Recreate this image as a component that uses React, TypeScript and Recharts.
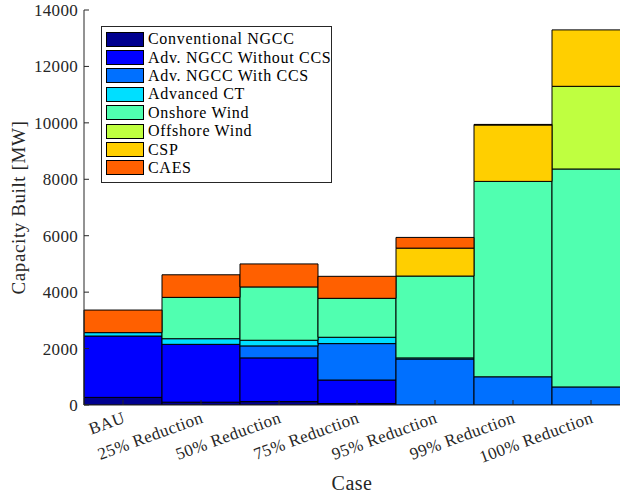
import { BarChart, Bar, XAxis, YAxis } from 'recharts';

const cases = ['BAU', '25% Reduction', '50% Reduction', '75% Reduction', '95% Reduction', '99% Reduction', '100% Reduction'];
const conventionalNgcc = [270, 100, 120, 50, 0, 0, 0];
const advNgccWithoutCcs = [2175, 2050, 1550, 836, 0, 0, 0];
const advNgccWithCcs = [0, 0, 425, 1290, 1630, 1000, 640];
const advancedCt = [120, 200, 200, 225, 40, 0, 0];
const onshoreWind = [0, 1465, 1890, 1380, 2900, 6925, 7725];
const offshoreWind = [0, 0, 0, 0, 0, 0, 2930];
const csp = [0, 0, 0, 0, 990, 2000, 2000];
const caes = [800, 800, 815, 780, 380, 20, 0];
const yTicks = [0, 2000, 4000, 6000, 8000, 10000, 12000, 14000];

const series = [
  { key: 'conv', name: 'Conventional NGCC', color: '#00008f', values: conventionalNgcc },
  { key: 'without', name: 'Adv. NGCC Without CCS', color: '#0000ff', values: advNgccWithoutCcs },
  { key: 'with', name: 'Adv. NGCC With CCS', color: '#0070ff', values: advNgccWithCcs },
  { key: 'ct', name: 'Advanced CT', color: '#00dfff', values: advancedCt },
  { key: 'onshore', name: 'Onshore Wind', color: '#50ffb0', values: onshoreWind },
  { key: 'offshore', name: 'Offshore Wind', color: '#bfff40', values: offshoreWind },
  { key: 'csp', name: 'CSP', color: '#ffcf00', values: csp },
  { key: 'caes', name: 'CAES', color: '#ff6000', values: caes },
];

const data = cases.map((name, i) => {
  const row: any = { name };
  series.forEach((s) => {
    row[s.key] = s.values[i];
  });
  return row;
});

const FONT = '"Liberation Serif", serif';
const AXIS = '#262626';

const YTick = ({ x, y, payload }: any) => (
  <g>
    <line x1={x + 6} x2={x + 11} y1={y} y2={y} stroke={AXIS} />
    <text x={x} y={y} dy="0.35em" textAnchor="end" fill={AXIS} fontSize={17} letterSpacing={0.3} fontFamily={FONT}>
      {payload.value}
    </text>
  </g>
);

const XTick = ({ x, y, payload }: any) => (
  <g>
    <line x1={x} x2={x} y1={y} y2={y - 5} stroke={AXIS} />
    <text
      x={x - 1}
      y={y + 6}
      dy="0.7em"
      textAnchor="end"
      fill={AXIS}
      fontSize={17}
      letterSpacing={0.4}
      fontFamily={FONT}
      transform={`rotate(-20, ${x - 1}, ${y + 6})`}
    >
      {payload.value}
    </text>
  </g>
);

const TopTick = ({ x, y }: any) => <line x1={x} x2={x} y1={y} y2={y + 5} stroke={AXIS} />;

// legend drawn as an overlay so it takes no room from the plot
const LegendBox = () => (
  <div
    style={{
      position: 'absolute',
      left: 101,
      top: 26,
      border: `1px solid ${AXIS}`,
      background: '#fff',
      padding: '3px 6px 5px 4px',
      width: 219,
      fontFamily: FONT,
      fontSize: 16,
      letterSpacing: 0.7,
      color: '#000',
      boxSizing: 'content-box',
    }}
  >
    {series.map((s) => (
      <div key={s.key} style={{ display: 'flex', alignItems: 'center', height: 18.4, whiteSpace: 'nowrap' }}>
        <span
          style={{
            display: 'inline-block',
            flex: 'none',
            width: 36,
            height: 13,
            background: s.color,
            border: '1px solid #000',
            marginRight: 4,
          }}
        />
        <span>{s.name}</span>
      </div>
    ))}
  </div>
);

export default function App() {
  return (
    <div style={{ position: 'absolute', left: 0, top: 0, width: 620, height: 496, overflow: 'hidden', background: '#fff' }}>
      <BarChart
        width={640}
        height={496}
        data={data}
        margin={{ top: 10, right: 10, left: 0, bottom: 0 }}
        barCategoryGap={0}
        barGap={0}
      >
        <XAxis
          dataKey="name"
          height={91}
          tickSize={0}
          tickMargin={0}
          tickLine={false}
          tick={<XTick />}
          interval={0}
          axisLine={{ stroke: AXIS }}
          label={(props: any) => {
            const vb = props.viewBox;
            return (
              <text x={vb.x + vb.width / 2 - 5} y={490} textAnchor="middle" fill={AXIS} fontSize={20} letterSpacing={0.5} fontFamily={FONT}>
                Case
              </text>
            );
          }}
        />
        <XAxis
          xAxisId="top"
          dataKey="name"
          orientation="top"
          height={0}
          tickSize={0}
          tickMargin={0}
          tickLine={false}
          tick={<TopTick />}
          interval={0}
          axisLine={{ stroke: AXIS }}
        />
        <YAxis
          width={84}
          domain={[0, 14000]}
          ticks={yTicks}
          interval={0}
          tickSize={0}
          tickMargin={6}
          tickLine={false}
          tick={<YTick />}
          axisLine={{ stroke: AXIS }}
          allowDataOverflow
          label={(props: any) => {
            const vb = props.viewBox;
            const cy = vb.y + vb.height / 2;
            return (
              <text
                x={25}
                y={cy}
                textAnchor="middle"
                fill={AXIS}
                fontSize={19}
                letterSpacing={0.6}
                fontFamily={FONT}
                transform={`rotate(-90, 25, ${cy})`}
              >
                Capacity Built [MW]
              </text>
            );
          }}
        />
        {series.map((s) => (
          <Bar
            key={s.key}
            dataKey={s.key}
            name={s.name}
            stackId="a"
            fill={s.color}
            stroke="#000"
            strokeWidth={1}
            isAnimationActive={false}
          />
        ))}
      </BarChart>
      <LegendBox />
    </div>
  );
}
